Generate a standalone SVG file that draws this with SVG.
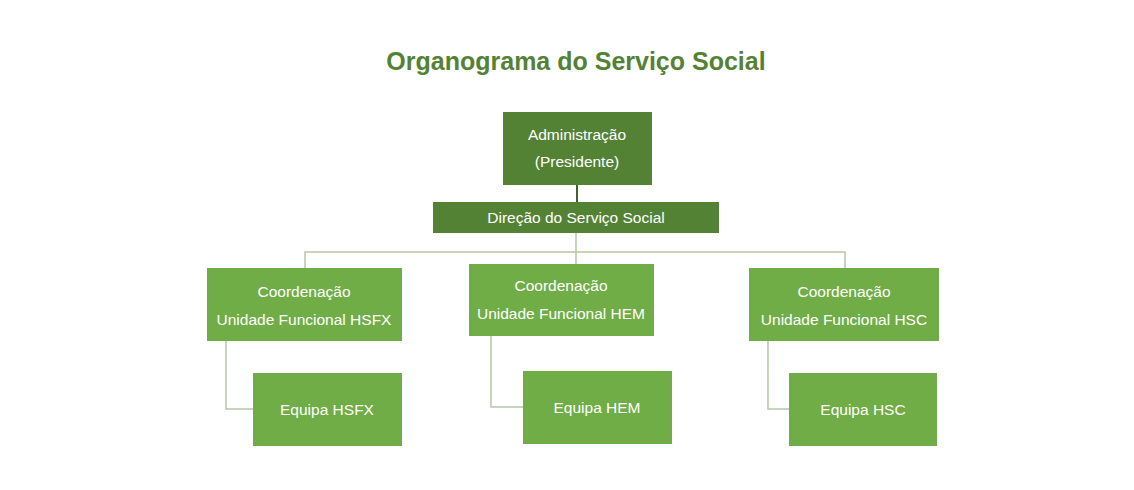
<svg xmlns="http://www.w3.org/2000/svg" width="1134" height="490" viewBox="0 0 1134 490">
<style>
.dk{fill:#548235}.lt{fill:#70AD47}
.t{font-family:"Liberation Sans",Arial,sans-serif;font-size:15.5px;fill:#fff;text-anchor:middle}
.c{fill:none;stroke:#B4C7A6;stroke-width:1.5}
</style>
<rect width="1134" height="490" fill="#fff"/>
<text x="576" y="70" text-anchor="middle" font-family="Liberation Sans,Arial,sans-serif" font-size="25" font-weight="bold" fill="#548235">Organograma do Serviço Social</text>
<g id="connectors">
<line x1="577" y1="185" x2="577" y2="202" stroke="#3F6328" stroke-width="2"/>
<path class="c" d="M576 233V252M305 268V252H845V268M576 252V264"/>
<path class="c" d="M226 341V409H253M491 336V407H523M768 341V409H789"/>
</g>
<g id="admin"><rect class="dk" x="503" y="112" width="149" height="73"/><text class="t" x="577" y="140">Administração</text><text class="t" x="577" y="167">(Presidente)</text></g>
<g id="direcao"><rect class="dk" x="433" y="202" width="286" height="31"/><text class="t" x="576" y="223">Direção do Serviço Social</text></g>
<g id="coord-hsfx"><rect class="lt" x="207" y="268" width="195" height="73"/><text class="t" x="304" y="297">Coordenação</text><text class="t" x="304" y="325">Unidade Funcional HSFX</text></g>
<g id="coord-hem"><rect class="lt" x="469" y="264" width="185" height="72"/><text class="t" x="561" y="291">Coordenação</text><text class="t" x="561" y="319">Unidade Funcional HEM</text></g>
<g id="coord-hsc"><rect class="lt" x="749" y="268" width="190" height="73"/><text class="t" x="844" y="297">Coordenação</text><text class="t" x="844" y="325">Unidade Funcional HSC</text></g>
<g id="eq-hsfx"><rect class="lt" x="253" y="373" width="149" height="73"/><text class="t" x="327" y="415">Equipa HSFX</text></g>
<g id="eq-hem"><rect class="lt" x="523" y="371" width="149" height="73"/><text class="t" x="597" y="413">Equipa HEM</text></g>
<g id="eq-hsc"><rect class="lt" x="789" y="373" width="148" height="73"/><text class="t" x="863" y="415">Equipa HSC</text></g>
</svg>
